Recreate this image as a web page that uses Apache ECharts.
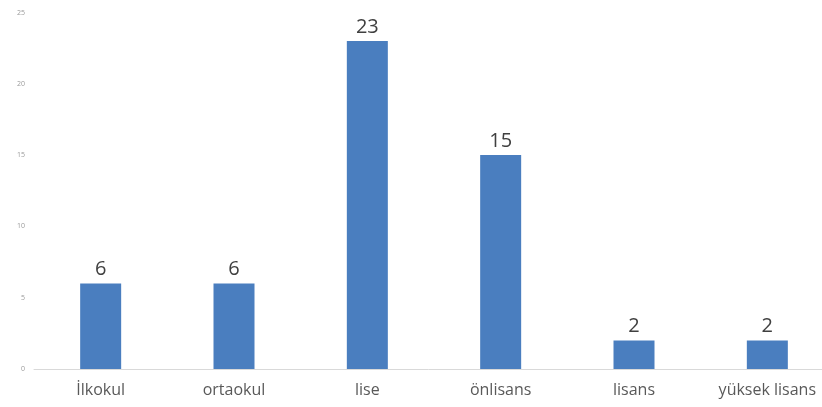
<!DOCTYPE html>
<html>
<head>
<meta charset="utf-8">
<style>html,body{margin:0;padding:0;background:#fff;}#c{width:822px;height:407px;}</style>
<script src="https://cdn.jsdelivr.net/npm/echarts@6/dist/echarts.min.js"></script>
</head>
<body>
<div id="c"></div>
<script>
const categories = ["İlkokul", "ortaokul", "lise", "önlisans", "lisans", "yüksek lisans"];
const values = [6, 6, 23, 15, 2, 2];
const yTicks = [0, 5, 10, 15, 20, 25];

const chart = echarts.init(document.getElementById('c'), null, {renderer: 'canvas'});
chart.setOption({
  animation: false,
  backgroundColor: '#ffffff',
  grid: {left: 34, top: 12.5, right: -12, bottom: 38, outerBoundsMode: 'none', containLabel: false},
  xAxis: {
    type: 'category',
    data: categories,
    axisLine: {lineStyle: {color: '#d9d9d9', width: 1}},
    axisTick: {show: false},
    axisLabel: {color: '#595959', fontSize: 16, fontFamily: 'Open Sans', margin: 13}
  },
  yAxis: {
    type: 'value',
    min: yTicks[0],
    max: yTicks[yTicks.length - 1],
    interval: 5,
    splitLine: {show: false},
    axisLine: {show: false},
    axisTick: {show: false},
    axisLabel: {color: '#9a9a9a', fontSize: 7, fontFamily: 'Open Sans', margin: 9}
  },
  series: [{
    type: 'bar',
    data: values,
    barWidth: 41,
    itemStyle: {color: '#4a7ebf'},
    label: {show: true, position: 'top', distance: 4, color: '#404040', fontSize: 20, fontFamily: 'Open Sans'}
  }]
});
</script>
</body>
</html>
